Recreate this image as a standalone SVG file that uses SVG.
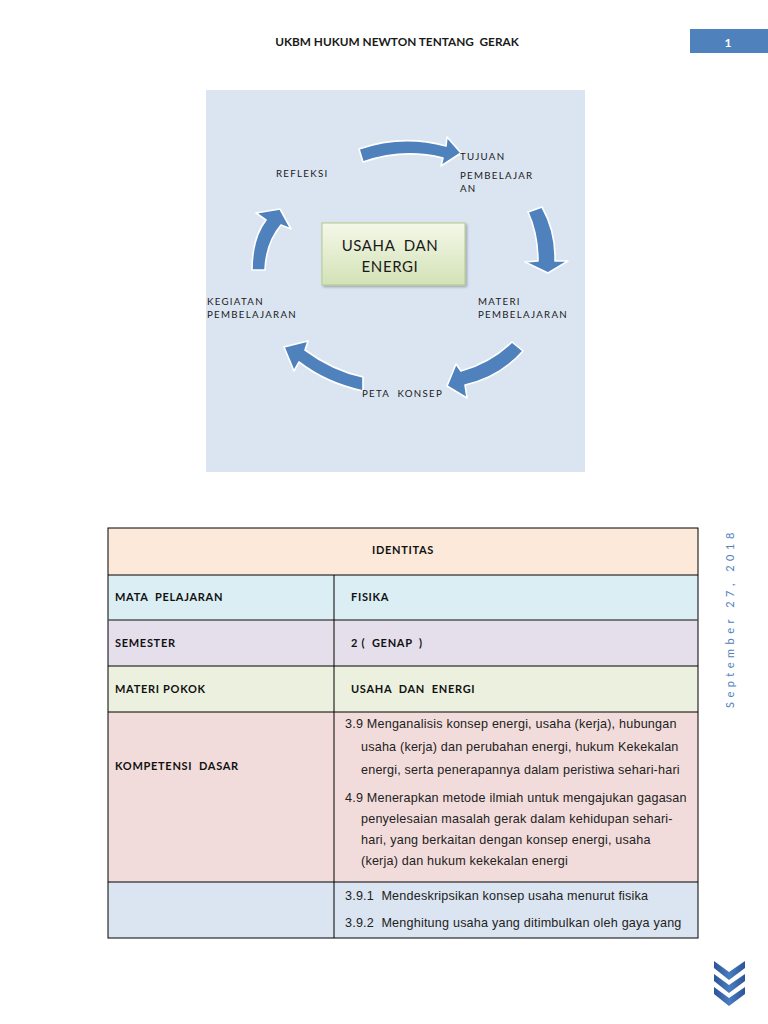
<svg xmlns="http://www.w3.org/2000/svg" width="768" height="1024" viewBox="0 0 768 1024">
<defs>
<linearGradient id="boxg" x1="0" y1="0" x2="0" y2="1">
<stop offset="0" stop-color="#f4f8e8"/>
<stop offset="1" stop-color="#d3e2b6"/>
</linearGradient>
<linearGradient id="chev" x1="0" y1="0" x2="1" y2="0">
<stop offset="0" stop-color="#2c5596"/>
<stop offset="0.5" stop-color="#4a7cc0"/>
<stop offset="1" stop-color="#2c5596"/>
</linearGradient>
<filter id="sh" x="-10%" y="-10%" width="130%" height="130%">
<feDropShadow dx="1.5" dy="1.5" stdDeviation="1" flood-color="#000" flood-opacity="0.3"/>
</filter>
</defs>
<style>
.hdr{font-family:Lato,"Liberation Sans",sans-serif;font-weight:bold;font-size:11.8px;fill:#1a1a1a}
.lbl{font-family:Lato,"Liberation Sans",sans-serif;font-size:9.7px;letter-spacing:1.3px;fill:#1a1a1a}
.arr{fill:#4f81bd;stroke:#ffffff;stroke-width:1.6;stroke-linejoin:round}
.cell{stroke:#000;stroke-width:1}
.tl{font-family:Lato,"Liberation Sans",sans-serif;font-weight:bold;font-size:11px;letter-spacing:0.7px;fill:#111}
.kd{font-family:"Liberation Sans",Arial,sans-serif;font-size:12.6px;letter-spacing:0.2px;fill:#222}
</style>
<rect width="768" height="1024" fill="#ffffff"/>

<g id="header">
<text class="hdr" x="397" y="46" text-anchor="middle" xml:space="preserve">UKBM HUKUM NEWTON TENTANG  GERAK</text>
</g>
<g id="page-number">
<rect x="690" y="29" width="78" height="24" fill="#4f81bd"/>
<text x="728" y="47" text-anchor="middle" font-family="Lato,'Liberation Sans',sans-serif" font-weight="bold" font-size="12" fill="#ffffff">1</text>
</g>

<g id="panel">
<rect x="206" y="90" width="379" height="382" fill="#dbe5f1"/>
</g>

<g id="connectors">
<path class="arr" d="M359,149 Q402,134 446,146 L447,137 L461,153 L441,166 L443,158 Q403,148 363,162 Z"/>
<path class="arr" d="M528,212 L542,207 Q556,232 555,261 L568,261 L548,273 L525,262 L538,261 Q538,234 528,212 Z"/>
<path class="arr" d="M512,342 L523,351 Q500,377 465,385 L467,398 L447,386 L456,364 L461,371 Q490,363 512,342 Z"/>
<path class="arr" d="M363,377 L363,391 Q326,383 299,362 L294,371 L284,347 L308,341 L305,350 Q332,370 363,377 Z"/>
<path class="arr" d="M252,270 Q252,238 266,220 L256,213 L280,209 L291,229 L281,225 Q266,243 265,270 Z"/>
</g>

<g id="node-center">
<rect x="322" y="223" width="143" height="62" fill="url(#boxg)" stroke="#b5c78e" stroke-width="1" filter="url(#sh)"/>
<text x="390" y="251" text-anchor="middle" font-family="Lato,'Liberation Sans',sans-serif" font-size="15" letter-spacing="0.6" fill="#1a1a1a" xml:space="preserve">USAHA  DAN</text>
<text x="390" y="272" text-anchor="middle" font-family="Lato,'Liberation Sans',sans-serif" font-size="15" letter-spacing="0.6" fill="#1a1a1a">ENERGI</text>
</g>
<g id="node-tujuan">
<text class="lbl" x="460" y="160">TUJUAN</text>
<text class="lbl" x="460" y="179">PEMBELAJAR</text>
<text class="lbl" x="460" y="192">AN</text>
</g>
<g id="node-materi">
<text class="lbl" x="478" y="305">MATERI</text>
<text class="lbl" x="478" y="318">PEMBELAJARAN</text>
</g>
<g id="node-peta">
<text class="lbl" x="362" y="397" xml:space="preserve">PETA  KONSEP</text>
</g>
<g id="node-kegiatan">
<text class="lbl" x="207" y="305">KEGIATAN</text>
<text class="lbl" x="207" y="318">PEMBELAJARAN</text>
</g>
<g id="node-refleksi">
<text class="lbl" x="276" y="177">REFLEKSI</text>
</g>

<g id="date">
<text transform="translate(734,708) rotate(-90)" font-family="Lato,'Liberation Sans',sans-serif" font-size="11" letter-spacing="4.5" fill="#4f81bd">September 27, 2018</text>
</g>

<g id="table">
<rect x="108" y="528" width="590" height="47" fill="#fde9d9"/>
<rect x="108" y="575" width="590" height="45" fill="#daeef3"/>
<rect x="108" y="620" width="590" height="46" fill="#e5dfec"/>
<rect x="108" y="666" width="590" height="46" fill="#ebf1de"/>
<rect x="108" y="712" width="590" height="170" fill="#f2dcdb"/>
<rect x="108" y="882" width="590" height="56" fill="#dbe5f1"/>
<rect x="108" y="528" width="590" height="410" fill="none" class="cell"/>
<line class="cell" x1="108" y1="575" x2="698" y2="575"/>
<line x1="108" y1="620" x2="698" y2="620" stroke="#555" stroke-width="1.5"/>
<line class="cell" x1="108" y1="666" x2="698" y2="666"/>
<line class="cell" x1="108" y1="712" x2="698" y2="712"/>
<line class="cell" x1="108" y1="882" x2="698" y2="882"/>
<line class="cell" x1="334" y1="575" x2="334" y2="938"/>
<text class="tl" x="403" y="554" text-anchor="middle">IDENTITAS</text>
<text class="tl" x="115" y="601" xml:space="preserve">MATA  PELAJARAN</text>
<text class="tl" x="351" y="601">FISIKA</text>
<text class="tl" x="115" y="647">SEMESTER</text>
<text class="tl" x="351" y="647" xml:space="preserve">2 (  GENAP  )</text>
<text class="tl" x="115" y="693">MATERI POKOK</text>
<text class="tl" x="351" y="693" xml:space="preserve">USAHA  DAN  ENERGI</text>
<text class="tl" x="115" y="770" xml:space="preserve">KOMPETENSI  DASAR</text>
<text class="kd" x="345" y="728">3.9 Menganalisis konsep energi, usaha (kerja), hubungan</text>
<text class="kd" x="361" y="751">usaha (kerja) dan perubahan energi, hukum Kekekalan</text>
<text class="kd" x="361" y="774">energi, serta penerapannya dalam peristiwa sehari-hari</text>
<text class="kd" x="345" y="802">4.9 Menerapkan metode ilmiah untuk mengajukan gagasan</text>
<text class="kd" x="361" y="823">penyelesaian masalah gerak dalam kehidupan sehari-</text>
<text class="kd" x="361" y="844">hari, yang berkaitan dengan konsep energi, usaha</text>
<text class="kd" x="361" y="865">(kerja) dan hukum kekekalan energi</text>
<text class="kd" x="345" y="900" xml:space="preserve">3.9.1  Mendeskripsikan konsep usaha menurut fisika</text>
<text class="kd" x="345" y="927" xml:space="preserve">3.9.2  Menghitung usaha yang ditimbulkan oleh gaya yang</text>
</g>

<g id="chevrons" fill="url(#chev)">
<path d="M714,961 L729,972 L745,961 L745,968 L729,980 L714,968 Z"/>
<path d="M714,974 L729,985 L745,974 L745,981 L729,993 L714,981 Z"/>
<path d="M714,987 L729,998 L745,987 L745,994 L729,1006 L714,994 Z"/>
</g>
</svg>
